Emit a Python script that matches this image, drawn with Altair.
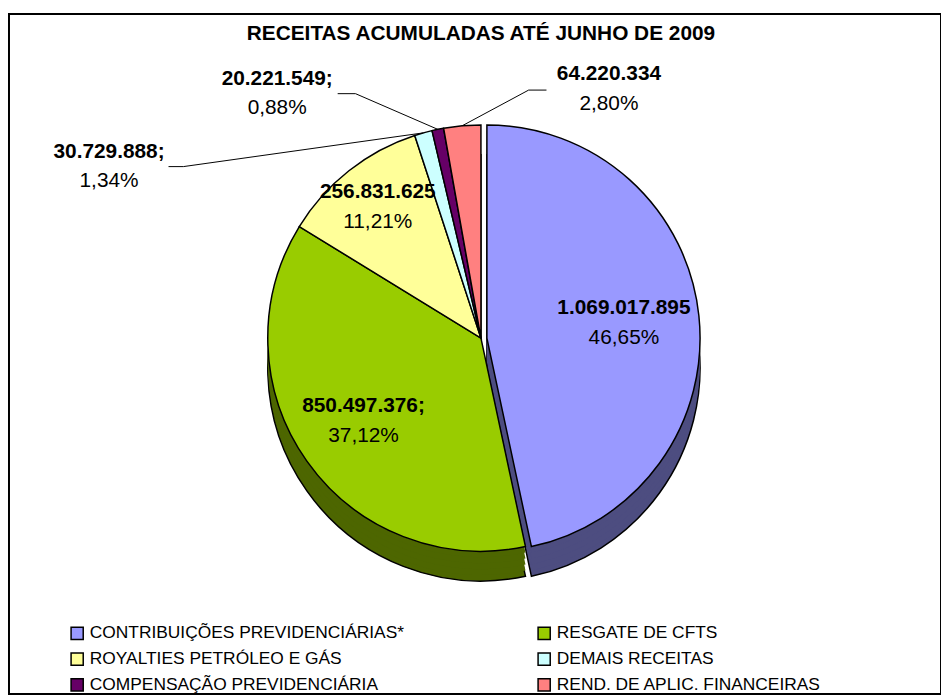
import altair as alt
import numpy as np
import pandas as pd

# ---------------- data ----------------
TITLE = "RECEITAS ACUMULADAS ATÉ JUNHO DE 2009"
categories = [
    "CONTRIBUIÇÕES PREVIDENCIÁRIAS*",
    "RESGATE DE CFTS",
    "ROYALTIES PETRÓLEO E GÁS",
    "DEMAIS RECEITAS",
    "COMPENSAÇÃO PREVIDENCIÁRIA",
    "REND. DE APLIC. FINANCEIRAS",
]
values = [1069017895, 850497376, 256831625, 30729888, 20221549, 64220334]
value_labels = ["1.069.017.895", "850.497.376;", "256.831.625", "30.729.888;", "20.221.549;", "64.220.334"]
pct_labels = ["46,65%", "37,12%", "11,21%", "1,34%", "0,88%", "2,80%"]

# ---------------- style ----------------
top_colors = ["#9999FF", "#99CC00", "#FFFF99", "#CCFFFF", "#660066", "#FF8080"]
side_colors = ["#4D4D80", "#4D6600", "#80804D", "#668080", "#330033", "#804040"]
FONT = "Liberation Sans"
CX, CY, R, DEPTH = 476, 327, 215, 30
EXPLODE = 6
# inside label radius (px) per slice
INSIDE_R = {
    "CONTRIBUIÇÕES PREVIDENCIÁRIAS*": 145,
    "RESGATE DE CFTS": 145,
    "ROYALTIES PETRÓLEO E GÁS": 168,
}
# outside label layout: offsets (px) from the slice's outer edge point
OUT_LAYOUT = {
    "DEMAIS RECEITAS": {"label": (-317, 34), "end": (-257, 34), "elbow": (-242, 34)},
    "COMPENSAÇÃO PREVIDENCIÁRIA": {"label": (-162, -36), "end": (-101, -36), "elbow": (-83, -36)},
    "REND. DE APLIC. FINANCEIRAS": {"label": (148, -37), "end": (85, -36), "elbow": (67, -36)},
}
# legend is filled column by column: reorder so it reads row by row
legend_order = [0, 2, 4, 1, 3, 5]
legend_domain = [categories[i] for i in legend_order]
legend_range = [top_colors[i] for i in legend_order]

df = pd.DataFrame({
    "cat": categories, "value": values, "vlabel": value_labels,
    "plabel": pct_labels, "side": side_colors, "idx": range(len(values)),
})
total = df["value"].sum()
frac = df["value"] / total
df["a1"] = frac.cumsum() * 2 * np.pi
df["a0"] = df["a1"] - frac * 2 * np.pi
df["mid"] = (df["a0"] + df["a1"]) / 2

blue = df[df["idx"] == 0]
rest = df[df["idx"] != 0]
inside = df[df["cat"].isin(INSIDE_R.keys())].copy()
inside["lr"] = [INSIDE_R[c] for c in inside["cat"]]
outside = df[df["cat"].isin(OUT_LAYOUT.keys())].copy()
outside["ex"] = CX + R * np.sin(outside["mid"])
outside["ey"] = CY - R * np.cos(outside["mid"])
for key, col in [("label", "l"), ("end", "n"), ("elbow", "b")]:
    outside[col + "x"] = outside["ex"] + [OUT_LAYOUT[c][key][0] for c in outside["cat"]]
    outside[col + "y"] = outside["ey"] + [OUT_LAYOUT[c][key][1] for c in outside["cat"]]

theta = alt.Theta("a0:Q", scale=None, stack=None)
theta2 = alt.Theta2("a1:Q")

layers = []
# 3D side (drawn from deepest to shallowest)
for d in [DEPTH, 24, 18, 12, 6]:
    for data, cx in [(rest, CX), (blue, CX + EXPLODE)]:
        kw = {"stroke": "black", "strokeWidth": 1.5} if d == DEPTH else {}
        layers.append(
            alt.Chart(data).mark_arc(radius=R, **kw).encode(
                theta=theta, theta2=theta2,
                fill=alt.Fill("side:N", scale=None, legend=None),
                x=alt.value(cx), y=alt.value(CY + d),
            )
        )

color = alt.Color(
    "cat:N",
    scale=alt.Scale(domain=legend_domain, range=legend_range),
    legend=alt.Legend(
        title=None, orient="none", legendX=60, legendY=616, columns=2,
        columnPadding=131, rowPadding=7, labelFontSize=17.5, labelFont=FONT,
        labelColor="black", symbolType="square", symbolSize=150,
        symbolStrokeColor="black", symbolStrokeWidth=1.5, labelLimit=500,
        padding=0, labelOffset=4, direction="vertical",
    ),
)
for data, cx in [(rest, CX), (blue, CX + EXPLODE)]:
    layers.append(
        alt.Chart(data).mark_arc(radius=R, stroke="black", strokeWidth=1.5).encode(
            theta=theta, theta2=theta2, color=color,
            x=alt.value(cx), y=alt.value(CY),
        )
    )

# inside labels
for field, weight, dy in [("vlabel", "bold", -15), ("plabel", "normal", 15)]:
    layers.append(
        alt.Chart(inside).mark_text(font=FONT, fontSize=21, fontWeight=weight, color="black", dy=dy).encode(
            theta=alt.Theta("mid:Q", scale=None, stack=None),
            radius=alt.Radius("lr:Q", scale=None),
            text=f"{field}:N",
            x=alt.value(CX), y=alt.value(CY),
        )
    )

# leader lines
for (x1, y1, x2, y2) in [("ex", "ey", "bx", "by"), ("bx", "by", "nx", "ny")]:
    layers.append(
        alt.Chart(outside).mark_rule(color="black", strokeWidth=1).encode(
            x=alt.X(f"{x1}:Q", scale=None, axis=None),
            y=alt.Y(f"{y1}:Q", scale=None, axis=None),
            x2=f"{x2}:Q", y2=f"{y2}:Q",
        )
    )
# outside labels
for field, weight, dy in [("vlabel", "bold", -15), ("plabel", "normal", 15)]:
    layers.append(
        alt.Chart(outside).mark_text(font=FONT, fontSize=21, fontWeight=weight, color="black", dy=dy).encode(
            x=alt.X("lx:Q", scale=None, axis=None),
            y=alt.Y("ly:Q", scale=None, axis=None),
            text=f"{field}:N",
        )
    )

# title
layers.append(
    alt.Chart(pd.DataFrame({"t": [TITLE]})).mark_text(
        font=FONT, fontSize=21, fontWeight="bold", color="black"
    ).encode(text="t:N", x=alt.value(476), y=alt.value(20))
)

chart = alt.layer(*layers).properties(
    width=941, height=689,
    autosize=alt.AutoSizeParams(type="fit", contains="padding"),
    padding={"left": 1, "top": 3, "right": 0, "bottom": 0},
).configure_view(stroke="black", strokeWidth=2)

chart.save("out.html", embed_options={"renderer": "svg", "actions": False})
